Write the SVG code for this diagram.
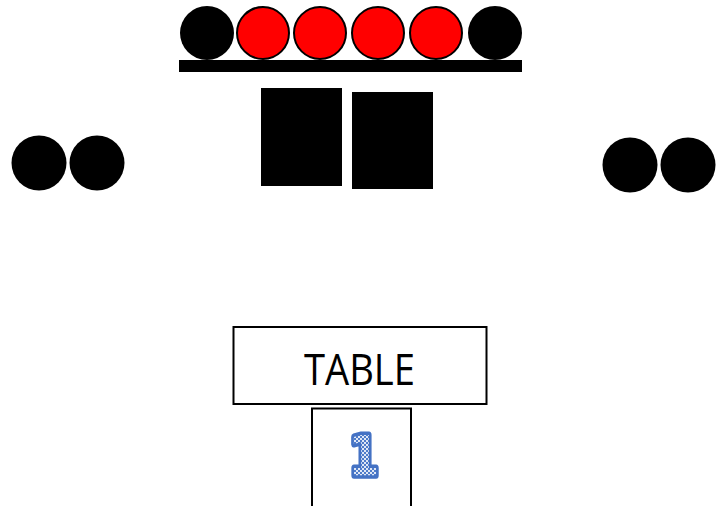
<svg xmlns="http://www.w3.org/2000/svg" width="721" height="506" viewBox="0 0 721 506">
<style>
.blk{fill:#000}
.red{fill:#ff0000;stroke:#000;stroke-width:2}
.box{fill:#fff;stroke:#000;stroke-width:2}
.lbl{font-family:"Open Sans","Liberation Sans",sans-serif;font-size:44px;fill:#000}
</style>
<defs>
<pattern id="chk" width="4" height="4" patternUnits="userSpaceOnUse">
<rect width="4" height="4" fill="#dfe7f6"/>
<rect width="2" height="2" fill="#4f7cc9"/>
<rect x="2" y="2" width="2" height="2" fill="#4f7cc9"/>
</pattern>
</defs>
<rect width="721" height="506" fill="#fff"/>
<g id="connectors"></g>
<g id="stage">
<circle class="blk" cx="207" cy="33" r="27"/>
<circle class="red" cx="263" cy="33" r="26"/>
<circle class="red" cx="320" cy="33" r="26"/>
<circle class="red" cx="378" cy="33" r="26"/>
<circle class="red" cx="436" cy="33" r="26"/>
<circle class="blk" cx="495" cy="33" r="27"/>
<rect class="blk" x="179" y="60" width="343" height="12"/>
</g>
<g id="blocks">
<rect class="blk" x="261" y="88" width="81" height="98"/>
<rect class="blk" x="352" y="92" width="81" height="97"/>
</g>
<g id="left-pair">
<circle class="blk" cx="39" cy="163" r="27.5"/>
<circle class="blk" cx="97" cy="163" r="27.5"/>
</g>
<g id="right-pair">
<circle class="blk" cx="630" cy="165" r="27.5"/>
<circle class="blk" cx="688" cy="165" r="27.5"/>
</g>
<g id="table">
<rect class="box" x="233.5" y="327" width="253" height="77"/>
<text class="lbl" x="304" y="385" textLength="111" lengthAdjust="spacingAndGlyphs">TABLE</text>
</g>
<g id="number">
<rect class="box" x="312" y="408.5" width="99" height="100"/>
<text x="349" y="475" font-family="DejaVu Sans" font-weight="bold" font-size="56" fill="url(#chk)" stroke="#4472C4" stroke-width="7" stroke-linejoin="round" paint-order="stroke" textLength="30" lengthAdjust="spacingAndGlyphs">1</text>
</g>
</svg>
